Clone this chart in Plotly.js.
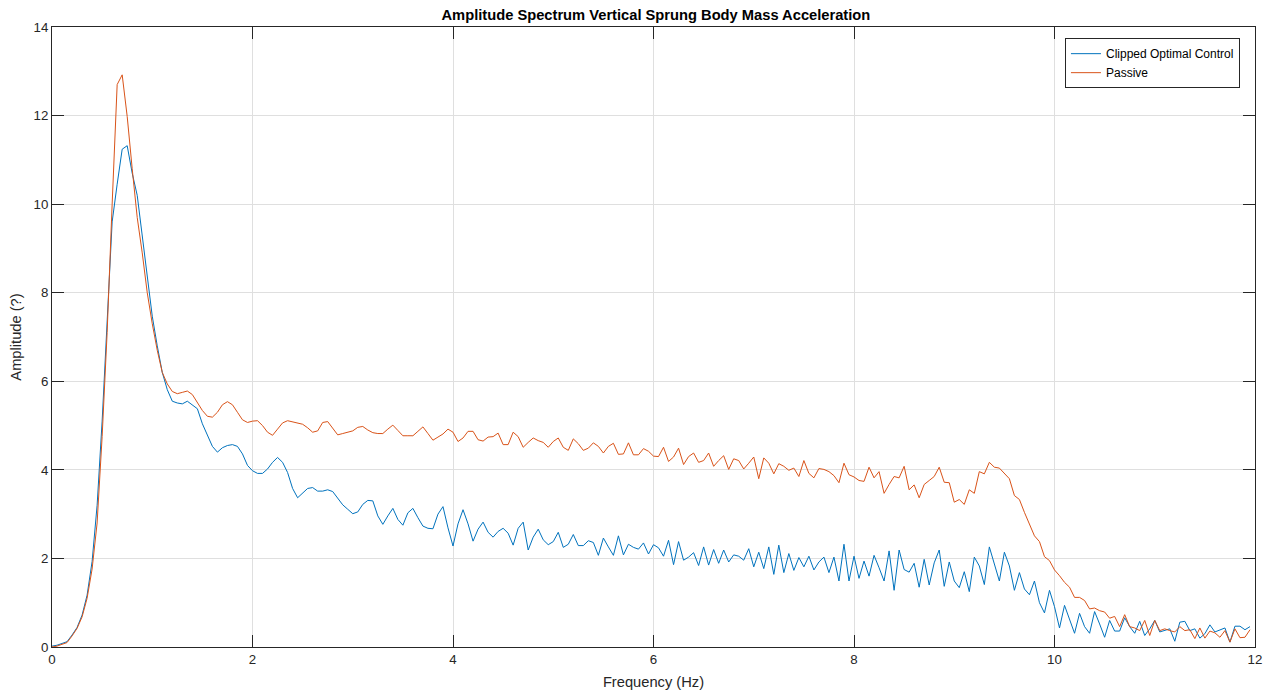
<!DOCTYPE html>
<html>
<head>
<meta charset="utf-8">
<script src="https://cdn.plot.ly/plotly-3.0.1.min.js"></script>
<style>html,body{margin:0;padding:0;background:#fff;}#chart{width:1265px;height:690px;}</style>
</head>
<body>
<div id="chart"></div>
<script>
const frequency = [
0.00,0.05,0.10,0.15,0.20,0.25,0.30,0.35,0.40,0.45,0.50,0.55,0.60,0.65,0.70,0.75,0.80,0.85,0.90,0.95,
1.00,1.05,1.10,1.15,1.20,1.25,1.30,1.35,1.40,1.45,1.50,1.55,1.60,1.65,1.70,1.75,1.80,1.85,1.90,1.95,
2.00,2.05,2.10,2.15,2.20,2.25,2.30,2.35,2.40,2.45,2.50,2.55,2.60,2.65,2.70,2.75,2.80,2.85,2.90,2.95,
3.00,3.05,3.10,3.15,3.20,3.25,3.30,3.35,3.40,3.45,3.50,3.55,3.60,3.65,3.70,3.75,3.80,3.85,3.90,3.95,
4.00,4.05,4.10,4.15,4.20,4.25,4.30,4.35,4.40,4.45,4.50,4.55,4.60,4.65,4.70,4.75,4.80,4.85,4.90,4.95,
5.00,5.05,5.10,5.15,5.20,5.25,5.30,5.35,5.40,5.45,5.50,5.55,5.60,5.65,5.70,5.75,5.80,5.85,5.90,5.95,
6.00,6.05,6.10,6.15,6.20,6.25,6.30,6.35,6.40,6.45,6.50,6.55,6.60,6.65,6.70,6.75,6.80,6.85,6.90,6.95,
7.00,7.05,7.10,7.15,7.20,7.25,7.30,7.35,7.40,7.45,7.50,7.55,7.60,7.65,7.70,7.75,7.80,7.85,7.90,7.95,
8.00,8.05,8.10,8.15,8.20,8.25,8.30,8.35,8.40,8.45,8.50,8.55,8.60,8.65,8.70,8.75,8.80,8.85,8.90,8.95,
9.00,9.05,9.10,9.15,9.20,9.25,9.30,9.35,9.40,9.45,9.50,9.55,9.60,9.65,9.70,9.75,9.80,9.85,9.90,9.95,
10.00,10.05,10.10,10.15,10.20,10.25,10.30,10.35,10.40,10.45,10.50,10.55,10.60,10.65,10.70,10.75,10.80,10.85,10.90,10.95,
11.00,11.05,11.10,11.15,11.20,11.25,11.30,11.35,11.40,11.45,11.50,11.55,11.60,11.65,11.70,11.75,11.80,11.85,11.90,11.95
];

const clippedOptimal = [
0.02,0.04,0.08,0.12,0.27,0.44,0.72,1.17,1.93,3.20,5.10,7.30,9.60,10.45,11.24,11.32,10.70,10.20,9.26,8.32,
7.47,6.80,6.20,5.81,5.55,5.51,5.49,5.55,5.47,5.38,5.04,4.79,4.53,4.40,4.50,4.55,4.57,4.53,4.36,4.10,
3.98,3.92,3.92,4.02,4.17,4.28,4.17,3.94,3.58,3.37,3.47,3.58,3.60,3.52,3.52,3.55,3.51,3.37,3.21,3.11,
3.01,3.05,3.22,3.31,3.30,2.96,2.77,2.96,3.13,2.88,2.75,3.03,3.13,2.92,2.73,2.68,2.67,3.00,3.17,2.69,
2.28,2.78,3.10,2.78,2.39,2.66,2.82,2.59,2.48,2.61,2.68,2.57,2.30,2.68,2.82,2.19,2.48,2.66,2.42,2.31,
2.38,2.59,2.25,2.32,2.54,2.29,2.29,2.40,2.36,2.07,2.46,2.26,2.07,2.51,2.08,2.32,2.25,2.21,2.35,2.10,
2.31,2.24,2.05,2.41,1.86,2.38,1.96,2.03,2.13,1.84,2.26,1.85,2.20,1.89,2.19,1.92,2.08,2.05,1.96,2.22,
1.81,2.14,1.77,2.26,1.64,2.30,1.68,2.11,1.73,2.02,1.81,2.05,1.74,1.92,2.03,1.68,2.03,1.49,2.32,1.49,
2.05,1.55,1.94,1.60,2.07,1.79,1.49,2.17,1.28,2.19,1.75,1.69,1.89,1.35,1.98,1.40,1.90,2.19,1.37,1.92,
1.49,1.34,1.70,1.25,2.03,1.83,1.41,2.26,1.86,1.49,2.14,1.83,1.28,1.68,1.31,1.18,1.49,1.00,0.77,1.28,
0.91,0.43,0.94,0.64,0.31,0.76,0.46,0.31,0.80,0.52,0.22,0.60,0.36,0.36,0.66,0.46,0.31,0.58,0.26,0.41,
0.60,0.34,0.37,0.41,0.13,0.56,0.58,0.37,0.41,0.20,0.30,0.50,0.34,0.39,0.43,0.11,0.47,0.47,0.39,0.46
];

const passive = [
0.00,0.02,0.06,0.10,0.25,0.42,0.68,1.10,1.76,2.80,4.75,7.10,10.00,12.70,12.92,11.98,10.80,9.70,8.90,8.00,
7.30,6.70,6.20,5.94,5.77,5.72,5.75,5.78,5.70,5.51,5.34,5.21,5.19,5.30,5.47,5.54,5.47,5.30,5.13,5.07,
5.10,5.11,5.00,4.85,4.78,4.92,5.06,5.11,5.08,5.06,5.03,4.95,4.85,4.88,5.07,5.09,4.95,4.79,4.82,4.85,
4.88,4.96,4.98,4.90,4.84,4.82,4.82,4.92,5.01,4.89,4.77,4.77,4.77,4.87,4.97,4.82,4.67,4.74,4.81,4.92,
4.85,4.64,4.72,4.87,4.87,4.68,4.65,4.74,4.75,4.83,4.57,4.57,4.85,4.75,4.51,4.62,4.72,4.66,4.62,4.51,
4.64,4.72,4.51,4.44,4.70,4.59,4.44,4.49,4.61,4.53,4.38,4.53,4.60,4.35,4.36,4.61,4.34,4.34,4.48,4.42,
4.31,4.30,4.51,4.19,4.29,4.49,4.12,4.30,4.38,4.17,4.21,4.38,4.08,4.21,4.32,4.01,4.25,4.21,4.02,4.15,
4.29,3.80,4.27,4.15,3.91,4.14,4.08,3.99,4.04,3.85,4.21,3.92,3.82,4.03,4.01,3.96,3.87,3.71,4.15,3.89,
3.84,3.76,3.74,4.06,3.82,3.96,3.47,3.67,3.85,3.82,4.08,3.55,3.66,3.37,3.67,3.76,3.85,4.06,3.72,3.71,
3.27,3.33,3.22,3.55,3.47,3.96,3.91,4.17,4.06,4.04,3.91,3.80,3.42,3.33,3.04,2.78,2.51,2.38,2.04,1.95,
1.74,1.61,1.46,1.35,1.12,1.12,1.05,0.86,0.88,0.82,0.79,0.65,0.69,0.46,0.73,0.46,0.43,0.37,0.60,0.26,
0.60,0.37,0.41,0.37,0.34,0.46,0.37,0.39,0.19,0.43,0.20,0.36,0.32,0.22,0.37,0.11,0.41,0.21,0.22,0.39
];

const xTicks = [0, 2, 4, 6, 8, 10, 12];
const yTicks = [0, 2, 4, 6, 8, 10, 12, 14];

const FONT = 'Liberation Sans, Arial, Helvetica, sans-serif';
const AX = '#262626';

const traces = [
  {x: frequency, y: clippedOptimal, type: 'scatter', mode: 'lines', name: 'Clipped Optimal Control',
   line: {color: '#0072BD', width: 1}},
  {x: frequency, y: passive, type: 'scatter', mode: 'lines', name: 'Passive',
   line: {color: '#D95319', width: 1}}
];

const axisCommon = {
  showline: true, linecolor: AX, linewidth: 1, mirror: 'allticks',
  ticks: 'inside', ticklen: 12, tickwidth: 1, tickcolor: AX,
  showgrid: true, gridcolor: '#dfdfdf', gridwidth: 1,
  zeroline: false, tickfont: {family: FONT, size: 13.3, color: AX},
  automargin: false
};

const layout = {
  width: 1265, height: 690,
  margin: {l: 52, r: 10, t: 27, b: 43},
  paper_bgcolor: '#ffffff', plot_bgcolor: '#ffffff',
  font: {family: FONT, color: AX},
  title: {text: '<b>Amplitude Spectrum Vertical Sprung Body Mass Acceleration</b>',
          font: {family: FONT, size: 14.7, color: '#000'}, x: 0.5185, xanchor: 'center',
          y: 0.978, yanchor: 'middle', yref: 'container'},
  xaxis: Object.assign({}, axisCommon, {
    range: [0, 12], tickvals: xTicks, ticktext: xTicks.map(String),
    title: {text: 'Frequency (Hz)', font: {family: FONT, size: 14.7, color: AX}, standoff: 11}
  }),
  yaxis: Object.assign({}, axisCommon, {
    range: [0, 14], tickvals: yTicks, ticktext: yTicks.map(String),
    title: {text: 'Amplitude (?)', font: {family: FONT, size: 14.7, color: AX}, standoff: 8}
  }),
  showlegend: true,
  legend: {x: 0.9875, y: 0.982, xanchor: 'right', yanchor: 'top',
           bgcolor: '#ffffff', bordercolor: AX, borderwidth: 1,
           font: {family: FONT, size: 12, color: '#000'}, tracegroupgap: 0}
};

Plotly.newPlot('chart', traces, layout, {displayModeBar: false, staticPlot: true});
</script>
</body>
</html>
